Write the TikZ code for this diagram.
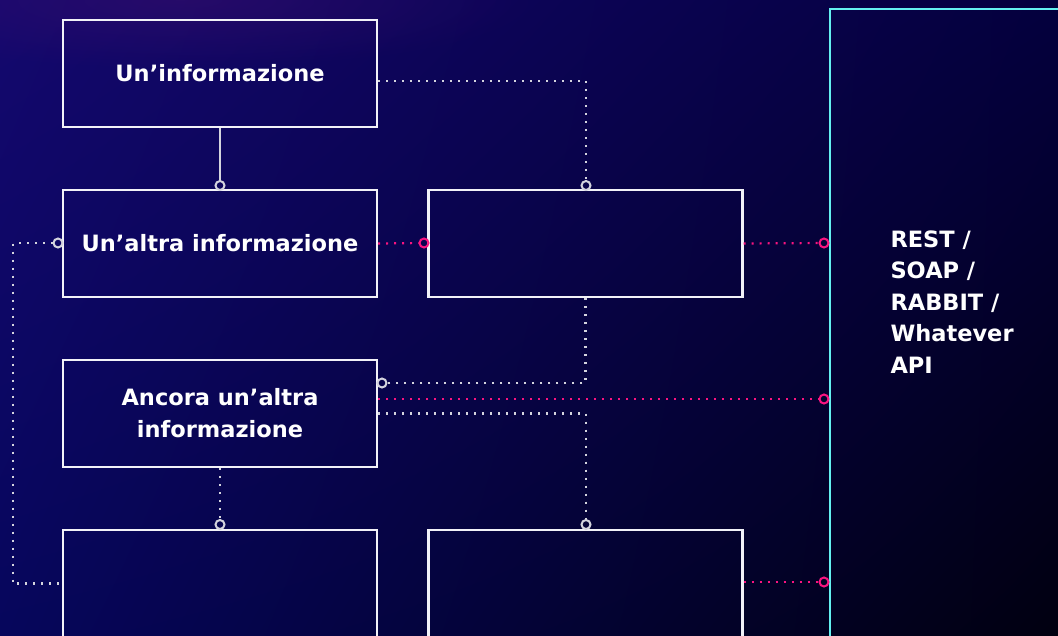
\documentclass[tikz,border=0pt]{standalone}
\usepackage{fontspec}
\setmainfont{DejaVu Sans}
\usetikzlibrary{fadings,calc,shadings}
\tikzfading[name=glowfade, inner color=transparent!0, outer color=transparent!100]
\definecolor{bgA}{RGB}{20,8,110}
\definecolor{bgB}{RGB}{4,0,62}
\definecolor{bgC}{RGB}{6,6,92}
\definecolor{bgD}{RGB}{1,0,16}
\definecolor{glow}{RGB}{64,16,110}
\definecolor{boxline}{RGB}{242,242,248}
\definecolor{conn}{RGB}{212,212,222}
\definecolor{pinkc}{RGB}{250,20,128}
\definecolor{cyanc}{RGB}{100,240,240}
\tikzset{
  infobox/.style={draw=boxline, line width=2.2pt, minimum width=314pt, minimum height=107pt, inner sep=0pt, text=white, align=center, font=\fontsize{22.5}{32}\selectfont\bfseries},
  apibox/.style={draw=cyanc, line width=2.2pt, minimum width=300pt, minimum height=640pt, inner sep=0pt},
  wdot/.style={circle, draw=conn, line width=2pt, minimum size=9pt, inner sep=0pt},
  pdot/.style={circle, draw=pinkc, line width=2pt, minimum size=9pt, inner sep=0pt},
  solidline/.style={draw=conn, line width=2pt},
  wdotted/.style={draw=conn, line width=2.2pt, dash pattern=on 2pt off 6pt},
  pdotted/.style={draw=pinkc, line width=2.2pt, dash pattern=on 2pt off 6pt},
}
\begin{document}
\begin{tikzpicture}[x=1pt,y=-1pt]
\useasboundingbox (0,0) rectangle (1058,635);
\clip (0,0) rectangle (1058,635);
\shade[upper left=bgA, upper right=bgB, lower left=bgC, lower right=bgD] (0,0) rectangle (1058,635);
\fill[glow, path fading=glowfade, fill opacity=0.45] (180,0) ellipse (360 and 70);
% boxes
\node[infobox] (A) at (220,73.5) {Un’informazione};
\node[infobox] (B) at (220,243.5) {Un’altra informazione};
\node[infobox] (C) at (220,413.5) {Ancora un’altra\\informazione};
\node[infobox] (D) at (220,583.5) {};
\node[infobox] (E) at (585.5,243.5) {};
\node[infobox] (F) at (585.5,583.5) {};
\node[apibox, anchor=north west] (G) at (829,8) {};
\node[anchor=west, text=white, align=left, font=\fontsize{22.5}{31.5}\selectfont\bfseries] (T) at (887,302) {REST /\\SOAP /\\RABBIT /\\Whatever\\API};
% connector end circles
\node[wdot] (cB1) at (220,185.5) {};
\node[wdot] (cE1) at (586,185.5) {};
\node[wdot] (cB2) at (58,243) {};
\node[pdot] (cE2) at (424,243) {};
\node[pdot] (cG1) at (824,243) {};
\node[wdot] (cC1) at (382,383) {};
\node[pdot] (cG2) at (824,399) {};
\node[wdot] (cF1) at (586,524.5) {};
\node[wdot] (cD1) at (220,524.5) {};
\node[pdot] (cG3) at (824,582) {};
\coordinate (L) at (13,583.5);
% connectors
\draw[solidline] (A.south) -- (cB1);
\draw[wdotted] ($(A.east)+(0,7.5)$) -| (cE1);
\draw[wdotted] (cB2) -| (L) -- (D.west);
\draw[pdotted] (B.east) -- (cE2);
\draw[pdotted] (E.east) -- (cG1);
\draw[wdotted] (E.south) |- (cC1);
\draw[pdotted] (cG2 -| C.east) -- (cG2);
\draw[wdotted] (C.east) -| (cF1);
\draw[wdotted] (C.south) -- (cD1);
\draw[pdotted] (F.east |- cG3) -- (cG3);
\end{tikzpicture}
\end{document}
